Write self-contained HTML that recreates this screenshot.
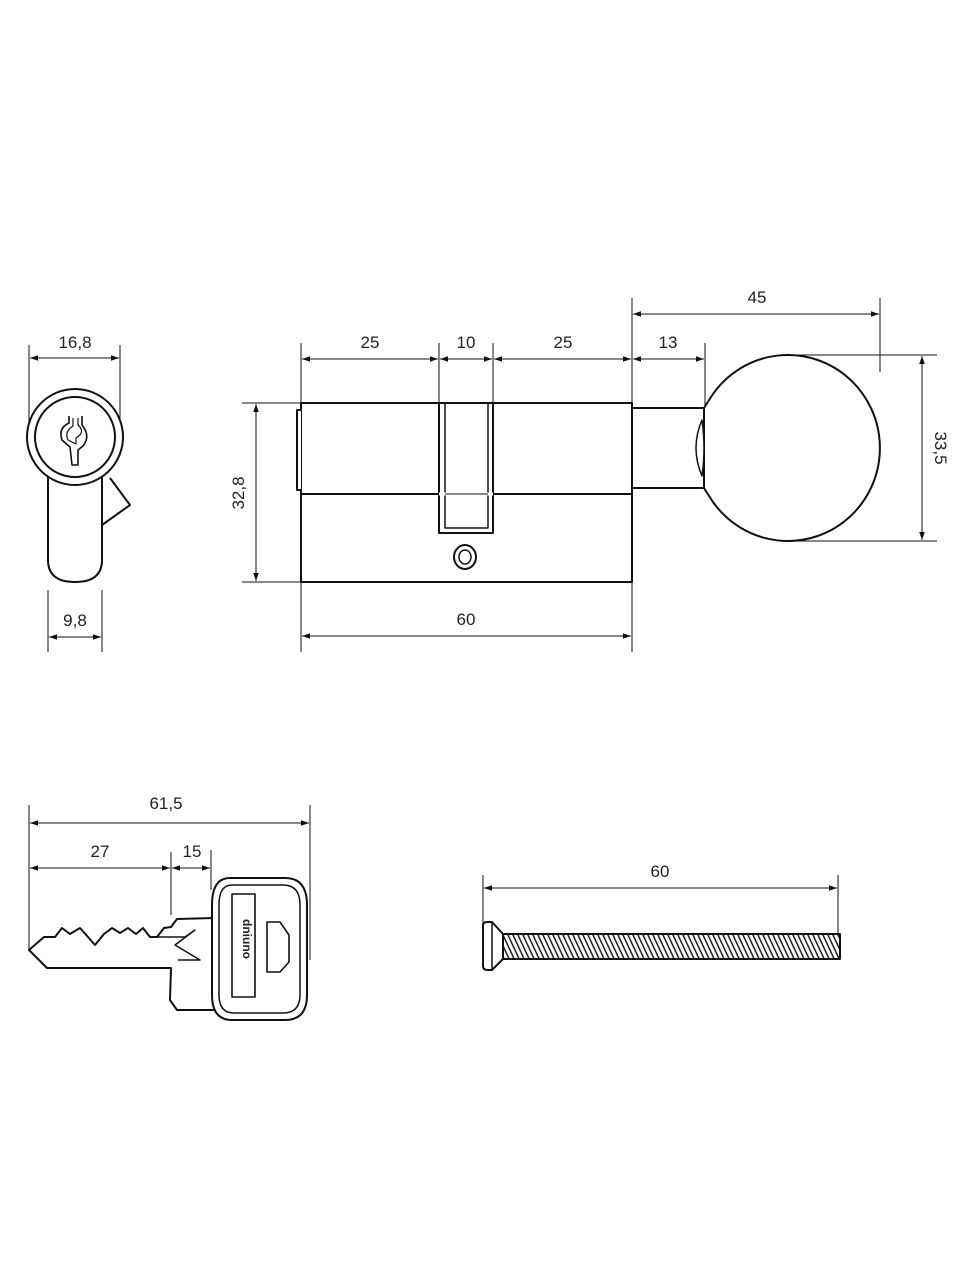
<!DOCTYPE html>
<html><head><meta charset="utf-8"><style>body{margin:0;background:#fff}svg{display:block}text{font-family:"Liberation Sans",sans-serif;font-size:17px;fill:#222}</style></head><body>
<svg width="960" height="1280" viewBox="0 0 960 1280" xmlns="http://www.w3.org/2000/svg">
<defs>
<marker id="a" viewBox="0 0 10 10" refX="10" refY="5" markerWidth="10" markerHeight="8" orient="auto-start-reverse" markerUnits="userSpaceOnUse"><path d="M0,1.5 L10,5 L0,8.5z" fill="#111"/></marker>
<pattern id="h" width="5" height="30" patternUnits="userSpaceOnUse" patternTransform="skewX(25)"><line x1="2" y1="0" x2="2" y2="30" stroke="#111" stroke-width="1.6"/></pattern>
</defs>
<g stroke="#111" stroke-width="1" fill="none">
<line x1="29" y1="345" x2="29" y2="430"/><line x1="120" y1="345" x2="120" y2="440"/>
<line x1="30" y1="358" x2="119" y2="358" marker-start="url(#a)" marker-end="url(#a)"/>
<line x1="48" y1="590" x2="48" y2="652"/><line x1="102" y1="590" x2="102" y2="652"/>
<line x1="49" y1="637" x2="101" y2="637" marker-start="url(#a)" marker-end="url(#a)"/>
<line x1="301" y1="343" x2="301" y2="403"/><line x1="439" y1="343" x2="439" y2="403"/><line x1="493" y1="343" x2="493" y2="403"/><line x1="632" y1="298" x2="632" y2="408"/><line x1="705" y1="343" x2="705" y2="408"/><line x1="880" y1="298" x2="880" y2="372"/>
<line x1="302" y1="359" x2="438" y2="359" marker-start="url(#a)" marker-end="url(#a)"/>
<line x1="440" y1="359" x2="492" y2="359" marker-start="url(#a)" marker-end="url(#a)"/>
<line x1="494" y1="359" x2="631" y2="359" marker-start="url(#a)" marker-end="url(#a)"/>
<line x1="633" y1="359" x2="704" y2="359" marker-start="url(#a)" marker-end="url(#a)"/>
<line x1="633" y1="314" x2="879" y2="314" marker-start="url(#a)" marker-end="url(#a)"/>
<line x1="242" y1="403" x2="301" y2="403"/><line x1="242" y1="582" x2="301" y2="582"/>
<line x1="256" y1="404" x2="256" y2="581" marker-start="url(#a)" marker-end="url(#a)"/>
<line x1="790" y1="355" x2="937" y2="355"/><line x1="790" y1="541" x2="937" y2="541"/>
<line x1="922" y1="356" x2="922" y2="540" marker-start="url(#a)" marker-end="url(#a)"/>
<line x1="301" y1="582" x2="301" y2="652"/><line x1="632" y1="582" x2="632" y2="652"/>
<line x1="302" y1="636" x2="631" y2="636" marker-start="url(#a)" marker-end="url(#a)"/>
<line x1="29" y1="805" x2="29" y2="950"/><line x1="310" y1="805" x2="310" y2="960"/><line x1="171" y1="852" x2="171" y2="915"/><line x1="211" y1="850" x2="211" y2="890"/>
<line x1="30" y1="823" x2="309" y2="823" marker-start="url(#a)" marker-end="url(#a)"/>
<line x1="30" y1="868" x2="170" y2="868" marker-start="url(#a)" marker-end="url(#a)"/>
<line x1="172" y1="868" x2="210" y2="868" marker-start="url(#a)" marker-end="url(#a)"/>
<line x1="483" y1="875" x2="483" y2="925"/><line x1="838" y1="875" x2="838" y2="935"/>
<line x1="484" y1="888" x2="837" y2="888" marker-start="url(#a)" marker-end="url(#a)"/>
</g>
<g stroke="#111" stroke-width="2" fill="#fff" stroke-linejoin="round">
<path d="M110,478 L130,505 L102,525"/>
<path d="M48,470 L48,560 Q48,582 75,582 Q102,582 102,560 L102,470"/>
<circle cx="75" cy="437" r="48"/>
<circle cx="75" cy="437" r="40"/>
<path d="M69,416 L69,423 Q58,428 62,440 L70,447 L72,465 L78,465 L78,450 L83,446 Q91,436 82,425 L82,416" fill="none" stroke-width="1.6"/>
<path d="M73,418 L73,426 Q64,432 68,440 L76,444 L76,438 Q86,432 78,425 L78,418" fill="none" stroke-width="1.2"/>
<rect x="301" y="403" width="331" height="179"/>
<line x1="301" y1="494" x2="632" y2="494"/>
<path d="M301,410 L297,410 L297,490 L301,490"/>
<rect x="439" y="403" width="54" height="130"/>
<path d="M445,403 L445,528 L488,528 L488,403" fill="none" stroke-width="1.5"/>
<line x1="439" y1="494" x2="493" y2="494" stroke="#fff" stroke-width="3"/>
<line x1="445" y1="494" x2="488" y2="494" stroke-width="1"/>
<ellipse cx="465" cy="557" rx="11" ry="12"/><ellipse cx="465" cy="557" rx="6" ry="7" stroke-width="1.5"/>
<rect x="632" y="408" width="80" height="80"/>
<path d="M704,408 Q709,400 713,394 A92,93 0 1 1 713,502 Q709,496 704,488 Z"/>
<path d="M702,420 Q690,448 702,476 Q706,448 702,420 Z" stroke-width="1.5"/>
<path d="M29,950 L44,937 L55,937 L62,928 L70,934 L80,928 L88,937 L95,945 L104,934 L112,928 L120,933 L128,928 L136,934 L143,928 L150,937 L157,937 L164,928 L171,927 L177,919 L215,918 L215,1010 L177,1010 L170,1000 L171,968 L47,968 Z"/>
<path d="M150,937 L185,937 L195,930 L175,945 L200,960 L178,960" fill="none" stroke-width="1.5"/>
<path d="M230,878 L285,878 Q307,878 307,905 L307,995 Q307,1020 285,1020 L232,1020 Q212,1020 212,995 L212,905 Q212,878 230,878 Z"/>
<path d="M232,885 L283,885 Q300,885 300,905 L300,995 Q300,1013 283,1013 L234,1013 Q219,1013 219,995 L219,905 Q219,885 232,885 Z" stroke-width="1.5"/>
<rect x="232" y="894" width="23" height="103" stroke-width="1.6"/>
<path d="M267,922 L280,922 L289,935 L289,962 L280,972 L267,972 Z" stroke-width="1.6"/>
<path d="M483,925 Q483,922 488,922 L492,922 L503,934 L503,959 L492,970 L488,970 Q483,970 483,966 Z"/>
<line x1="492" y1="922" x2="492" y2="970" stroke-width="1.5"/>
<rect x="503" y="934" width="337" height="25" fill="url(#h)"/>
</g>
<text x="236" y="946" transform="rotate(90 243 946)" text-anchor="middle" style="font-size:12px;font-weight:bold" fill="#111">dniuno</text>
<g text-anchor="middle">
<text x="75" y="348">16,8</text><text x="75" y="626">9,8</text>
<text x="370" y="348">25</text><text x="466" y="348">10</text><text x="563" y="348">25</text><text x="668" y="348">13</text><text x="757" y="303">45</text>
<text x="466" y="625">60</text>
<text transform="translate(244,493) rotate(-90)">32,8</text>
<text transform="translate(935,448) rotate(90)">33,5</text>
<text x="166" y="809">61,5</text><text x="100" y="857">27</text><text x="192" y="857">15</text>
<text x="660" y="877">60</text>
</g>
</svg>
</body></html>
